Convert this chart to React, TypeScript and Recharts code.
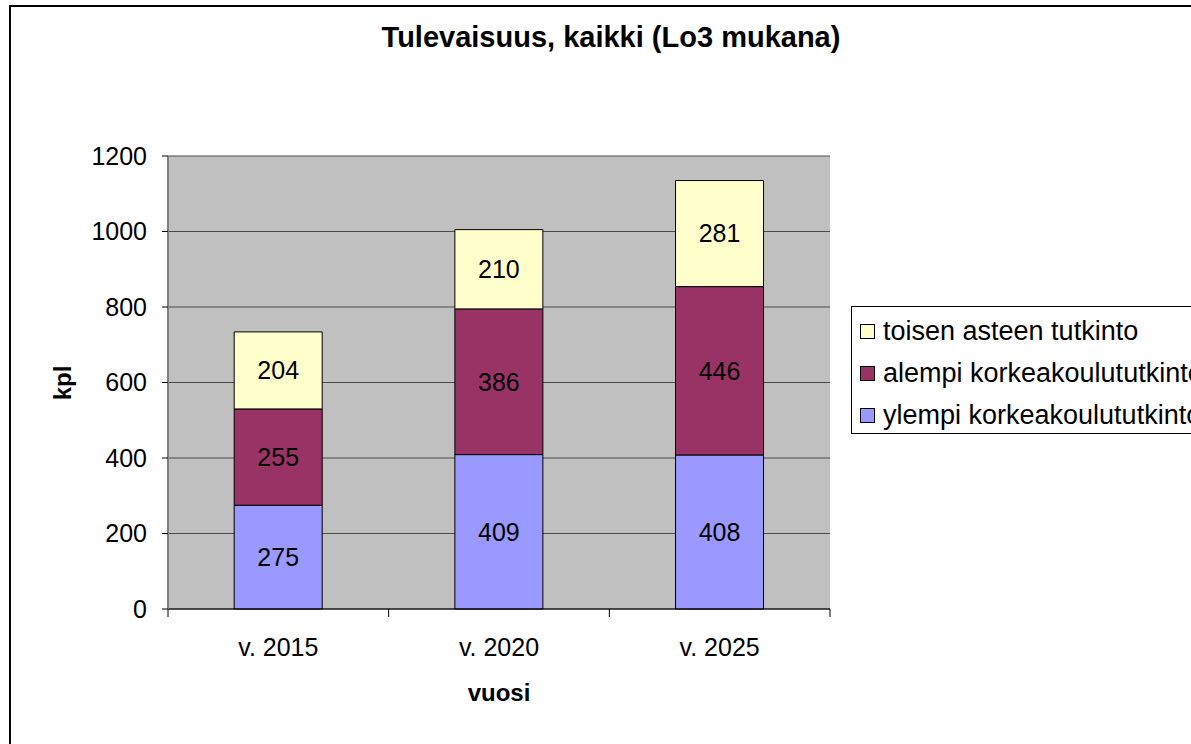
import React from 'react';
import { BarChart, Bar, XAxis, YAxis, CartesianGrid, LabelList } from 'recharts';

const categories = ['v. 2015', 'v. 2020', 'v. 2025'];
const ylempi = [275, 409, 408];
const alempi = [255, 386, 446];
const toisen = [204, 210, 281];
const yTicks = [0, 200, 400, 600, 800, 1000, 1200];

const series = [
  { key: 'toisen', name: 'toisen asteen tutkinto', color: '#FFFFCC' },
  { key: 'alempi', name: 'alempi korkeakoulututkinto', color: '#993366' },
  { key: 'ylempi', name: 'ylempi korkeakoulututkinto', color: '#9999FF' },
];

const data = categories.map((c, i) => ({
  name: c,
  ylempi: ylempi[i],
  alempi: alempi[i],
  toisen: toisen[i],
}));

const W = 1191;
const H = 744;
const margin = { top: 156, right: 361, bottom: 75, left: 100 };
const FONT = '"Liberation Sans", Arial, sans-serif';
// width of one category band, used to put tick marks between the categories
const step = (W - margin.left - 68 - margin.right) / categories.length;

const CategoryTick = (props: any) => {
  const { x, y, payload, index } = props;
  return (
    <g>
      <line x1={x - step / 2} y1={y - 8} x2={x - step / 2} y2={y} stroke="#000" />
      {index === categories.length - 1 && (
        <line x1={x + step / 2} y1={y - 8} x2={x + step / 2} y2={y} stroke="#000" />
      )}
      <text x={x} y={y + 39} textAnchor="middle" fontSize={25} fontFamily={FONT} fill="#000">
        {payload.value}
      </text>
    </g>
  );
};

export default function App() {
  return (
    <div style={{ position: 'absolute', left: 0, top: 0, width: W, height: H, overflow: 'hidden', background: '#fff', fontFamily: FONT }}>
      <div style={{ position: 'absolute', left: 9, top: 5, width: 1400, height: 1000, border: '2px solid #000' }} />
      <div style={{ position: 'absolute', left: 0, top: 21, width: 1222, textAlign: 'center', fontSize: 29, fontWeight: 'bold', color: '#000' }}>
        Tulevaisuus, kaikki (Lo3 mukana)
      </div>
      <BarChart width={W} height={H} data={data} margin={margin} barCategoryGap="30%">
        <CartesianGrid vertical={false} stroke="#4a4a4a" fill="#C0C0C0" fillOpacity={1} />
        <XAxis
          dataKey="name"
          tick={<CategoryTick />}
          tickLine={false}
          tickSize={8}
          tickMargin={0}
          axisLine={{ stroke: '#000', strokeWidth: 1 }}
          height={60}
          interval={0}
        />
        <YAxis
          domain={[0, 1200]}
          ticks={yTicks}
          width={68}
          tickSize={6}
          tickMargin={15}
          tickLine={{ stroke: '#000' }}
          axisLine={{ stroke: '#808080', strokeWidth: 2 }}
          tick={{ fontSize: 25, fill: '#000', fontFamily: FONT }}
          interval={0}
        />
        <YAxis
          yAxisId="r"
          orientation="right"
          width={0}
          tick={false}
          tickLine={false}
          axisLine={{ stroke: '#808080', strokeWidth: 2 }}
        />
        {[...series].reverse().map((s) => (
          <Bar key={s.key} dataKey={s.key} name={s.name} stackId="a" fill={s.color} stroke="#000" strokeWidth={1} isAnimationActive={false}>
            <LabelList dataKey={s.key} position="center" fill="#000" fontSize={25} fontFamily={FONT} />
          </Bar>
        ))}
      </BarChart>
      <div style={{ position: 'absolute', left: 63, top: 383, transform: 'translate(-50%, -50%) rotate(-90deg)', fontSize: 24, fontWeight: 'bold' }}>kpl</div>
      <div style={{ position: 'absolute', left: 499, top: 693, transform: 'translate(-50%, -50%)', fontSize: 24, fontWeight: 'bold' }}>vuosi</div>
      <div style={{ position: 'absolute', left: 851, top: 306, width: 500, height: 128, border: '1px solid #000', boxSizing: 'border-box', paddingTop: 3 }}>
        {series.map((s) => (
          <div key={s.key} style={{ display: 'flex', alignItems: 'center', height: 42, fontSize: 27, color: '#000', whiteSpace: 'nowrap' }}>
            <span style={{ display: 'inline-block', width: 13, height: 13, background: s.color, border: '1px solid #000', marginLeft: 8, marginRight: 8 }} />
            {s.name}
          </div>
        ))}
      </div>
    </div>
  );
}
